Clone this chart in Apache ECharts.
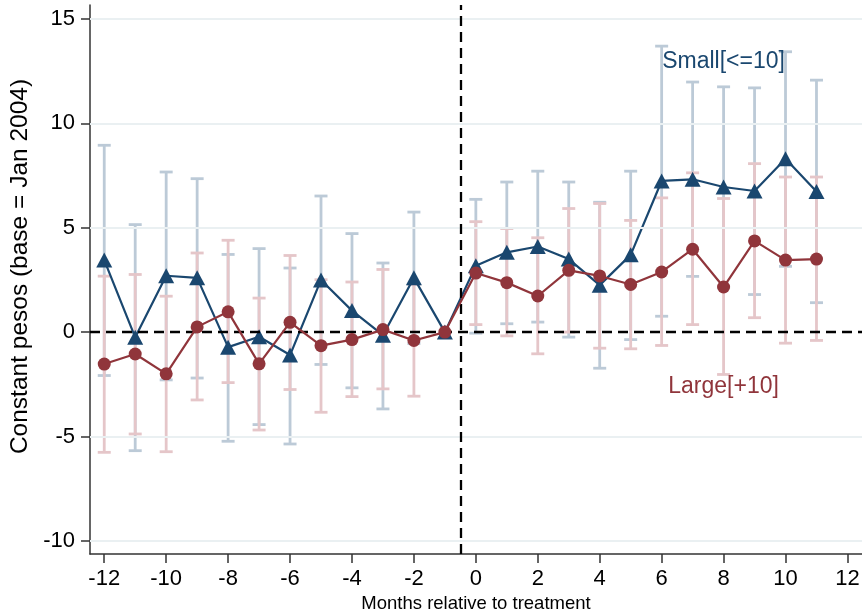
<!DOCTYPE html>
<html>
<head>
<meta charset="utf-8">
<script src="https://cdn.jsdelivr.net/npm/echarts@6/dist/echarts.min.js"></script>
<style>
html,body{margin:0;padding:0;background:#fff;}
#chart{width:862px;height:614px;}
</style>
</head>
<body>
<div id="chart"></div>
<script>
// ---- data ----
const months = [-12,-11,-10,-9,-8,-7,-6,-5,-4,-3,-2,-1,0,1,2,3,4,5,6,7,8,9,10,11];
const smallCoef = [3.45,-0.25,2.7,2.6,-0.72,-0.22,-1.1,2.5,1.03,-0.15,2.6,0,3.18,3.82,4.1,3.5,2.25,3.7,7.24,7.32,6.95,6.76,8.3,6.73];
const smallLo   = [-2.08,-5.68,-2.29,-2.2,-5.23,-4.43,-5.36,-1.55,-2.67,-3.68,-0.55,null,-0.05,0.4,0.48,-0.24,-1.73,-0.36,0.76,2.67,2.15,1.8,3.15,1.41];
const smallHi   = [8.95,5.15,7.67,7.35,3.72,4.0,3.07,6.52,4.72,3.31,5.75,null,6.36,7.19,7.71,7.19,6.22,7.71,13.7,11.98,11.75,11.7,13.43,12.07];
const largeCoef = [-1.53,-1.05,-2.0,0.25,0.97,-1.52,0.47,-0.65,-0.36,0.12,-0.4,0,2.83,2.37,1.73,2.96,2.69,2.28,2.88,3.97,2.16,4.37,3.45,3.5];
const largeLo   = [-5.76,-4.88,-5.73,-3.25,-2.42,-4.69,-2.75,-3.84,-3.09,-2.72,-3.07,null,0.36,-0.18,-1.04,0.0,-0.77,-0.8,-0.64,0.36,-2.03,0.69,-0.53,-0.4];
const largeHi   = [2.68,2.76,1.72,3.79,4.4,1.63,3.67,2.51,2.4,3.0,2.28,null,5.29,4.96,4.52,5.92,6.16,5.35,6.43,7.63,6.4,8.07,7.43,7.43];
const xTicks = [-12,-10,-8,-6,-4,-2,0,2,4,6,8,10,12];
const yTicks = [-10,-5,0,5,10,15];
const gridValues = [-10,-5,5,10,15];
const treatLine = -0.5;
const seriesNames = ['Small[<=10]','Large[+10]'];
// ---- end data ----

const NAVY = '#1a476f', MAROON = '#90353b';
const NAVY_CI = '#bccad7', MAROON_CI = '#e5c6c9';
const FONT = '"Liberation Sans", Arial, Helvetica, sans-serif';

function ciData(lo, hi){
  const out = [];
  months.forEach((m,i)=>{ if(lo[i]!=null && hi[i]!=null) out.push([m, lo[i], hi[i]]); });
  return out;
}
function errRender(color){
  return function(params, api){
    const x = api.value(0), lo = api.value(1), hi = api.value(2);
    const a = api.coord([x, lo]), b = api.coord([x, hi]);
    const cap = 6.5;
    const style = {stroke: color, lineWidth: 2.8, fill: null};
    return {type:'group', children:[
      {type:'line', shape:{x1:a[0],y1:a[1],x2:b[0],y2:b[1]}, style:style},
      {type:'line', shape:{x1:a[0]-cap,y1:a[1],x2:a[0]+cap,y2:a[1]}, style:style},
      {type:'line', shape:{x1:b[0]-cap,y1:b[1],x2:b[0]+cap,y2:b[1]}, style:style}
    ]};
  };
}

const chart = echarts.init(document.getElementById('chart'), null, {renderer:'canvas'});
chart.setOption({
  animation:false,
  backgroundColor:'#ffffff',
  grid:{left:90, right:0, top:5, bottom:60, containLabel:false, outerBoundsMode:'none'},
  xAxis:{
    type:'value', min:-12.46, max:12.47,
    name:'Months relative to treatment', nameLocation:'middle', nameGap:39,
    nameTextStyle:{fontFamily:FONT, fontSize:18.5, color:'#000'},
    axisLine:{show:true, onZero:false, lineStyle:{color:'#333', width:1.5}},
    axisTick:{show:true, length:9, customValues:xTicks, lineStyle:{color:'#333', width:1.5}},
    axisLabel:{customValues:xTicks, fontFamily:FONT, fontSize:22, color:'#000', margin:14},
    splitLine:{show:false}
  },
  yAxis:{
    type:'value', min:-10.63, max:15.67,
    name:'Constant pesos (base = Jan 2004)', nameLocation:'middle', nameGap:57, nameRotate:90,
    nameTextStyle:{fontFamily:FONT, fontSize:24.5, color:'#000', padding:[0,0,0,26]},
    axisLine:{show:true, onZero:false, lineStyle:{color:'#333', width:1.5}},
    axisTick:{show:true, length:9, customValues:yTicks, lineStyle:{color:'#333', width:1.5}},
    axisLabel:{customValues:yTicks, fontFamily:FONT, fontSize:22, color:'#000', margin:15},
    splitLine:{show:false}
  },
  series:[
    {
      type:'line', data:[], silent:true, z:1,
      markLine:{
        silent:true, symbol:'none', label:{show:false}, animation:false,
        data: gridValues.map(v=>({yAxis:v, lineStyle:{color:'#eaf0f2', width:2, type:'solid'}}))
          .concat([
            {yAxis:0, lineStyle:{color:'#000', width:2.3, type:[10,6]}},
            {xAxis:treatLine, lineStyle:{color:'#000', width:2.3, type:[10,6]}}
          ])
      }
    },
    {type:'custom', name:seriesNames[0]+' CI', z:2, silent:true, renderItem:errRender(NAVY_CI), data:ciData(smallLo, smallHi), encode:{x:0,y:[1,2]}},
    {type:'custom', name:seriesNames[1]+' CI', z:3, silent:true, renderItem:errRender(MAROON_CI), data:ciData(largeLo, largeHi), encode:{x:0,y:[1,2]}},
    {type:'line', name:seriesNames[0], z:4, data:months.map((m,i)=>[m, smallCoef[i]]),
      symbol:'triangle', symbolSize:[16,15], showAllSymbol:true,
      lineStyle:{color:NAVY, width:2.2}, itemStyle:{color:NAVY, borderWidth:0}},
    {type:'line', name:seriesNames[1], z:5, data:months.map((m,i)=>[m, largeCoef[i]]),
      symbol:'circle', symbolSize:13, showAllSymbol:true,
      lineStyle:{color:MAROON, width:2.2}, itemStyle:{color:MAROON, borderWidth:0}},
    {type:'scatter', z:6, symbolSize:0, silent:true, itemStyle:{opacity:1},
      data:[
        {value:[8, 12.94], label:{show:true, position:'inside', formatter:seriesNames[0], color:NAVY, opacity:1, fontFamily:FONT, fontSize:23}},
        {value:[8, -2.62], label:{show:true, position:'inside', formatter:seriesNames[1], color:MAROON, opacity:1, fontFamily:FONT, fontSize:23}}
      ]}
  ]
});
</script>
</body>
</html>
